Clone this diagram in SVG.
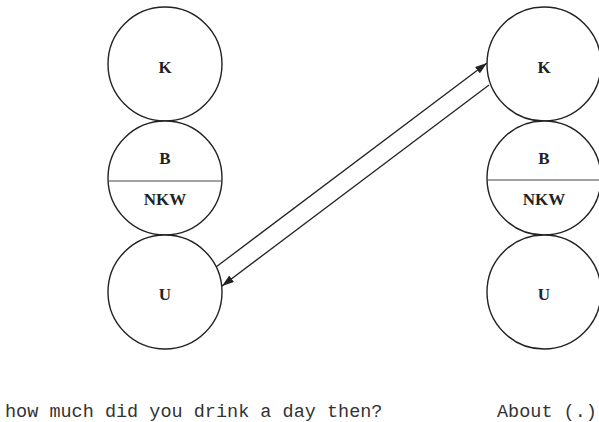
<svg xmlns="http://www.w3.org/2000/svg" width="599" height="422" viewBox="0 0 599 422">
  <style>
    .node circle { fill: #fff; stroke: #222; stroke-width: 1.4; }
    .divider { stroke: #444; stroke-width: 1; }
    .label { font-family: "Liberation Serif", "Times New Roman", serif; font-weight: bold; font-size: 17px; fill: #222; text-anchor: middle; }
    .edge { stroke: #222; stroke-width: 1.3; fill: none; marker-end: url(#arrow); }
    .speech { font-family: "Liberation Mono", "Courier New", monospace; font-size: 18.5px; fill: #333; }
  </style>
  <defs>
    <marker id="arrow" viewBox="0 0 12 8" refX="12" refY="4" markerWidth="12" markerHeight="8" markerUnits="userSpaceOnUse" orient="auto">
      <path d="M0,0 L12,4 L0,8 Z" fill="#222"/>
    </marker>
  </defs>
  <rect width="599" height="422" fill="#fff"/>

  <!-- left column -->
  <g id="left-k" class="node">
    <circle cx="165" cy="64" r="57"/>
    <text class="label" x="165" y="73">K</text>
  </g>
  <g id="left-b-nkw" class="node">
    <circle cx="165" cy="178" r="57"/>
    <line class="divider" x1="108" y1="181" x2="222" y2="181"/>
    <text class="label" x="165" y="164">B</text>
    <text class="label" x="165" y="205">NKW</text>
  </g>
  <g id="left-u" class="node">
    <circle cx="165" cy="292" r="57"/>
    <text class="label" x="165" y="300">U</text>
  </g>

  <!-- right column -->
  <g id="right-k" class="node">
    <circle cx="544" cy="64" r="57"/>
    <text class="label" x="544" y="73">K</text>
  </g>
  <g id="right-b-nkw" class="node">
    <circle cx="544" cy="178" r="57"/>
    <line class="divider" x1="487" y1="180" x2="601" y2="180"/>
    <text class="label" x="544" y="164">B</text>
    <text class="label" x="544" y="205">NKW</text>
  </g>
  <g id="right-u" class="node">
    <circle cx="544" cy="292" r="57"/>
    <text class="label" x="544" y="300">U</text>
  </g>

  <!-- connectors -->
  <g id="connectors">
    <line class="edge" x1="216" y1="267" x2="487" y2="63"/>
    <line class="edge" x1="489" y1="85" x2="222" y2="286"/>
  </g>

  <!-- transcript line -->
  <text class="speech" x="5" y="417">how much did you drink a day then?</text>
  <text class="speech" x="497" y="417">About (.)</text>
</svg>
